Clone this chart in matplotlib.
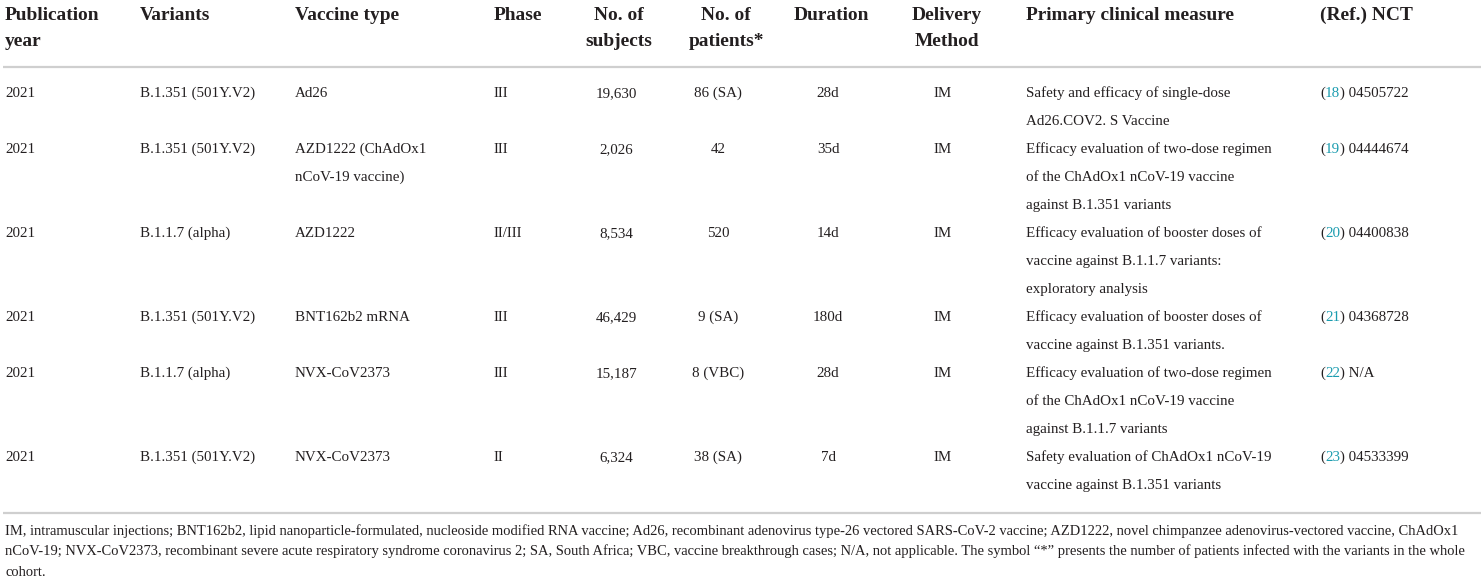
import matplotlib
matplotlib.use("Agg")
import matplotlib.pyplot as plt

# ---------------- data ----------------
headers = [["Publication", "year"], ["Variants"], ["Vaccine type"], ["Phase"],
           ["No. of", "subjects"], ["No. of", "patients*"], ["Duration"],
           ["Delivery", "Method"], ["Primary clinical measure"], ["(Ref.) NCT"]]
years = ["2021", "2021", "2021", "2021", "2021", "2021"]
variants = ["B.1.351 (501Y.V2)", "B.1.351 (501Y.V2)", "B.1.1.7 (alpha)",
            "B.1.351 (501Y.V2)", "B.1.1.7 (alpha)", "B.1.351 (501Y.V2)"]
vaccine_types = [["Ad26"], ["AZD1222 (ChAdOx1", "nCoV-19 vaccine)"], ["AZD1222"],
                 ["BNT162b2 mRNA"], ["NVX-CoV2373"], ["NVX-CoV2373"]]
phases = ["III", "III", "II/III", "III", "III", "II"]
subjects = ["19,630", "2,026", "8,534", "46,429", "15,187", "6,324"]
patients = ["86 (SA)", "42", "520", "9 (SA)", "8 (VBC)", "38 (SA)"]
durations = ["28d", "35d", "14d", "180d", "28d", "7d"]
delivery = ["IM", "IM", "IM", "IM", "IM", "IM"]
measures = [["Safety and efficacy of single-dose", "Ad26.COV2. S Vaccine"],
            ["Efficacy evaluation of two-dose regimen", "of the ChAdOx1 nCoV-19 vaccine",
             "against B.1.351 variants"],
            ["Efficacy evaluation of booster doses of", "vaccine against B.1.1.7 variants:",
             "exploratory analysis"],
            ["Efficacy evaluation of booster doses of", "vaccine against B.1.351 variants."],
            ["Efficacy evaluation of two-dose regimen", "of the ChAdOx1 nCoV-19 vaccine",
             "against B.1.1.7 variants"],
            ["Safety evaluation of ChAdOx1 nCoV-19", "vaccine against B.1.351 variants"]]
refs = ["18", "19", "20", "21", "22", "23"]
ncts = ["04505722", "04444674", "04400838", "04368728", "N/A", "04533399"]
footnote = [
    "IM, intramuscular injections; BNT162b2, lipid nanoparticle-formulated, nucleoside modified RNA vaccine; "
    "Ad26, recombinant adenovirus type-26 vectored SARS-CoV-2 vaccine; AZD1222, novel chimpanzee adenovirus-vectored vaccine, ChAdOx1",
    "nCoV-19; NVX-CoV2373, recombinant severe acute respiratory syndrome coronavirus 2; SA, South Africa; VBC, "
    "vaccine breakthrough cases; N/A, not applicable. The symbol \u201c*\u201d presents the number of patients infected with the variants in the whole",
    "cohort.",
]

# ---------------- style / layout ----------------
W, H = 1484, 579
FONT = "Liberation Serif"
TXT = "#231f20"
TEAL = "#1a9caf"
RULE = "#cfcfcf"

fig = plt.figure(figsize=(W / 100, H / 100), dpi=100)
ax = fig.add_axes([0, 0, 1, 1])
ax.set_xlim(0, W)
ax.set_ylim(H, 0)
ax.axis("off")
fig.canvas.draw()
renderer = fig.canvas.get_renderer()


def width_px(s, size, weight="normal"):
    t = ax.text(0, 0, s, fontsize=size, family=FONT, fontweight=weight)
    w = t.get_window_extent(renderer).width
    t.remove()
    return w


def fit(s, target, weight="normal"):
    return 10 * target / width_px(s, 10, weight)


HS = fit("Primary clinical measure", 209, "bold")
BS = fit("Safety and efficacy of single-dose", 204)
FS = fit(footnote[0], 1460)


def put(x, y, s, size, ha="left", weight="normal", color=TXT):
    return ax.text(x, y, s, fontsize=size, family=FONT, fontweight=weight,
                   ha=ha, va="baseline", color=color)


# header
col_x = [5, 140, 295, 494, 619, 726, 831, 947, 1026, 1320]
col_ha = ["left", "left", "left", "left", "center", "center", "center", "center", "left", "left"]
head_base = [19.5, 46]
for x, ha, lines in zip(col_x, col_ha, headers):
    for i, ln in enumerate(lines):
        put(x, head_base[i], ln, HS, ha=ha, weight="bold")

# rules
ax.plot([3, 1481], [67, 67], color=RULE, lw=1.6, solid_capstyle="butt")
ax.plot([3, 1481], [513, 513], color=RULE, lw=1.6, solid_capstyle="butt")

# body
first_base = 97
step = 28
val_x = [5, 140, 295, 494, 616, 718, 828, 943, 1026, 1320]
line_idx = 0
for r in range(len(years)):
    y0 = first_base + step * line_idx
    put(val_x[0], y0, years[r], BS)
    put(val_x[1], y0, variants[r], BS)
    for i, ln in enumerate(vaccine_types[r]):
        put(val_x[2], y0 + step * i, ln, BS)
    put(val_x[3], y0, phases[r], BS)
    put(val_x[4], y0, subjects[r], BS, ha="center")
    put(val_x[5], y0, patients[r], BS, ha="center")
    put(val_x[6], y0, durations[r], BS, ha="center")
    put(val_x[7], y0, delivery[r], BS, ha="center")
    for i, ln in enumerate(measures[r]):
        put(val_x[8], y0 + step * i, ln, BS)
    # reference: "(" + teal number + ") " + NCT
    x = val_x[9]
    for piece, col in (("(", TXT), (refs[r], TEAL), (") " + ncts[r], TXT)):
        put(x, y0, piece, BS, color=col)
        x += width_px(piece, BS)
    line_idx += max(len(vaccine_types[r]), len(measures[r]))

# footnote
for i, ln in enumerate(footnote):
    put(5, 534.5 + 21 * i, ln, FS)

fig.savefig("out.png", dpi=100)
